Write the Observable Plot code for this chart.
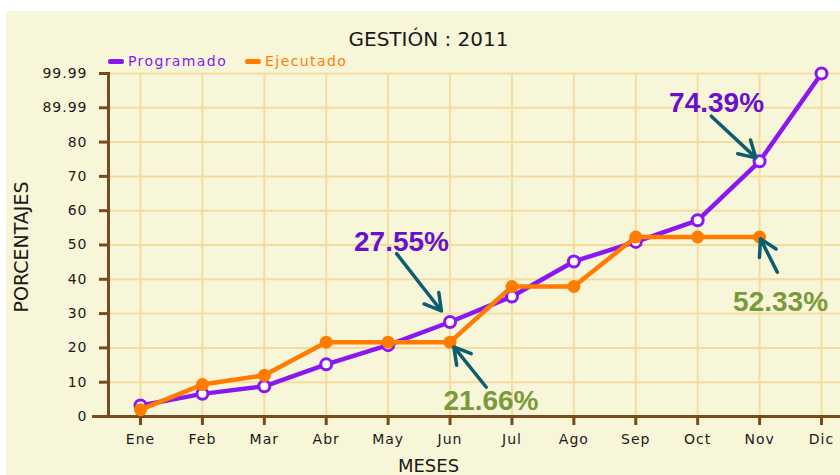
<!DOCTYPE html>
<html>
<head>
<meta charset="utf-8">
<script src="https://cdn.jsdelivr.net/npm/d3@7"></script>
<script src="https://cdn.jsdelivr.net/npm/@observablehq/plot@0.6"></script>
<style>
  body { margin: 0; background: #fff; font-family: "DejaVu Sans", sans-serif; }
  #wrap { position: relative; width: 840px; height: 475px; overflow: hidden; }
  #panel { position: absolute; left: 6px; top: 11px; right: 0; bottom: 0; background: #f8f6d8; }
  #chart { position: absolute; left: 0; top: 0; }
  #legend { position: absolute; left: 108px; top: 53px; display: flex; align-items: center; font-size: 14px; letter-spacing: 1.4px; }
  #legend .item { display: flex; align-items: center; margin-right: 18px; }
  #legend .sw { width: 16px; height: 5px; border-radius: 2px; margin-right: 4px; }
  g[aria-label="y-axis tick label"] text, g[aria-label="x-axis tick label"] text { letter-spacing: 1px; }
  g[aria-label="title"] text { letter-spacing: 1.2px; }
  g[aria-label="axis-title"] text { letter-spacing: 1px; }
</style>
</head>
<body>
<div id="wrap">
  <div id="panel"></div>
  <div id="chart"></div>
  <div id="legend"></div>
</div>
<script>
const months = ["Ene","Feb","Mar","Abr","May","Jun","Jul","Ago","Sep","Oct","Nov","Dic"];
const programado = [3.2, 6.6, 8.8, 15.2, 20.8, 27.55, 35.0, 45.2, 50.9, 57.2, 74.39, 99.99];
const ejecutado = [2.0, 9.3, 12.0, 21.66, 21.66, 21.66, 37.9, 37.9, 52.33, 52.33, 52.33];
const yTickValues = [0, 10, 20, 30, 40, 50, 60, 70, 80, 89.99, 99.99];
const yTickLabels = ["0","10","20","30","40","50","60","70","80","89.99","99.99"];
const seriesNames = ["Programado", "Ejecutado"];
const calloutMonths = ["Jun", "Nov", "Jun", "Nov"];
const calloutSeries = ["Programado", "Programado", "Ejecutado", "Ejecutado"];
const calloutLabels = ["27.55%", "74.39%", "21.66%", "52.33%"];

const purple = "#8b17f0";
const orange = "#ff7c00";
const brown = "#7b4a1c";
const grid = "#f3dca0";
const teal = "#0c5d70";
const labelColors = {Programado: "#6a10cc", Ejecutado: "#7a9a3a"};

const progData = programado.map((v, i) => ({i, v}));
const ejecData = ejecutado.map((v, i) => ({i, v}));

// annotation layout (label / arrow-tail positions in data units, insets in px)
const layout = [
  {tx: 4.136, ty: 47.5, lx: 4.216, ly: 50.8, insetS: 0, insetE: 14},
  {tx: 9.22, ty: 87.55, lx: 9.305, ly: 91.5, insetS: 0, insetE: 5},
  {tx: 5.788, ty: 3.99, lx: 5.662, ly: 4.37, insetS: 20, insetE: 6},
  {tx: 10.504, ty: 34.26, lx: 10.339, ly: 33.3, insetS: 30, insetE: 2}
];
const callouts = calloutLabels.map((label, k) => {
  const i = months.indexOf(calloutMonths[k]);
  const s = calloutSeries[k];
  const v = (s === "Programado" ? programado : ejecutado)[i];
  return {label, i, v, color: labelColors[s], ...layout[k]};
});

const arrows = callouts.map((c) =>
  Plot.arrow([c], {x1: "tx", y1: "ty", x2: "i", y2: "v", insetStart: c.insetS, insetEnd: c.insetE, stroke: teal, strokeWidth: 3.5})
);

const chart = Plot.plot({
  width: 840,
  height: 475,
  marginLeft: 108,
  marginRight: 0,
  marginTop: 73,
  marginBottom: 59,
  style: {background: "transparent", fontFamily: "DejaVu Sans"},
  x: {domain: [0, 11], range: [140, 821]},
  y: {domain: [0, 99.99]},
  marks: [
    Plot.ruleY(yTickValues.slice(1), {stroke: grid, strokeWidth: 2}),
    Plot.ruleX(d3.range(months.length), {stroke: grid, strokeWidth: 2}),
    Plot.frame({anchor: "left", stroke: brown, strokeWidth: 3}),
    Plot.ruleY([0], {stroke: brown, strokeWidth: 3}),
    Plot.axisY({ticks: [0], tickSize: 16, text: null, stroke: brown, strokeWidth: 3}),
    Plot.axisY({
      ticks: yTickValues,
      tickFormat: (d) => yTickLabels[yTickValues.indexOf(d)],
      tickSize: 9, tickPadding: 12,
      stroke: brown, strokeWidth: 3,
      fill: "#1a1a1a", fontSize: 14, label: null
    }),
    Plot.axisX({
      ticks: d3.range(months.length),
      tickFormat: (i) => months[i],
      tickSize: 9, tickPadding: 9,
      stroke: brown, strokeWidth: 3,
      fill: "#1a1a1a", fontSize: 14, label: null
    }),
    Plot.line(progData, {x: "i", y: "v", stroke: purple, strokeWidth: 4.5}),
    Plot.dot(progData, {x: "i", y: "v", r: 5.5, fill: "#fdfdf6", stroke: purple, strokeWidth: 3}),
    Plot.line(ejecData, {x: "i", y: "v", stroke: orange, strokeWidth: 4.5}),
    Plot.dot(ejecData, {x: "i", y: "v", r: 6.5, fill: orange}),
    ...arrows,
    Plot.text(callouts, {x: "lx", y: "ly", text: "label", fill: "color", fontSize: 28, fontWeight: "bold", fontFamily: "Liberation Sans"}),
    Plot.text(["GESTIÓN : 2011"], {frameAnchor: "top", dx: -46, dy: -42, fontSize: 20, fill: "#1a1a1a", ariaLabel: "title"}),
    Plot.text(["MESES"], {frameAnchor: "bottom", dx: -46, dy: 55, fontSize: 18, fill: "#1a1a1a", ariaLabel: "axis-title"}),
    Plot.text(["PORCENTAJES"], {frameAnchor: "left", textAnchor: "middle", dx: -87, dy: 2, rotate: -90, fontSize: 19, fill: "#1a1a1a", ariaLabel: "axis-title"})
  ]
});
document.getElementById("chart").appendChild(chart);

const legend = document.getElementById("legend");
const legendColors = {Programado: purple, Ejecutado: orange};
for (const name of seriesNames) {
  const item = document.createElement("div");
  item.className = "item";
  item.innerHTML = `<span class="sw" style="background:${legendColors[name]}"></span><span style="color:${legendColors[name]}">${name}</span>`;
  legend.appendChild(item);
}
</script>
</body>
</html>
